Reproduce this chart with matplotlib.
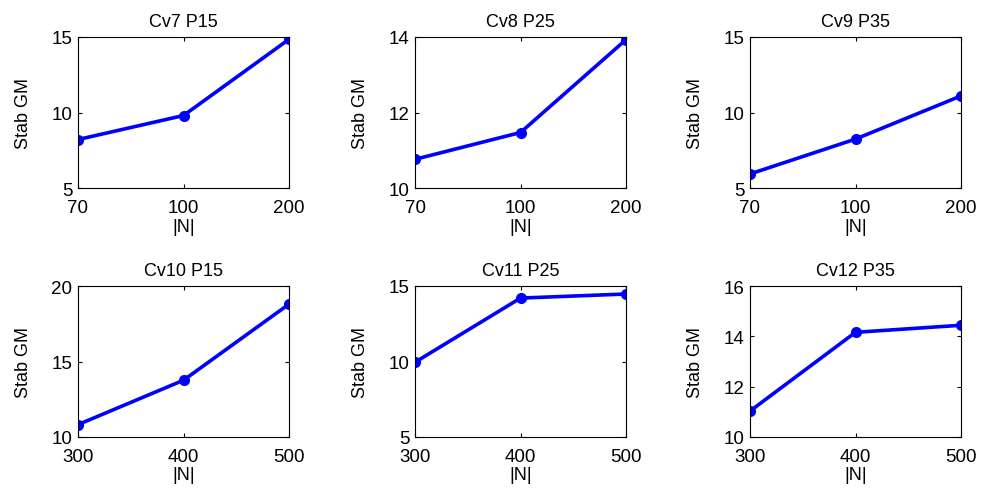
import matplotlib
matplotlib.use("Agg")
import matplotlib.pyplot as plt

plt.rcParams['font.family'] = ['Liberation Sans', 'DejaVu Sans']

# Data
titles = ["Cv7 P15", "Cv8 P25", "Cv9 P35", "Cv10 P15", "Cv11 P25", "Cv12 P35"]
n_top = ["70", "100", "200"]
n_bottom = ["300", "400", "500"]
cv7 = [8.21, 9.8, 14.85]
cv8 = [10.76, 11.47, 13.93]
cv9 = [5.93, 8.24, 11.1]
cv10 = [10.82, 13.76, 18.8]
cv11 = [9.95, 14.2, 14.47]
cv12 = [11.03, 14.16, 14.44]
ylims = [(5, 15), (10, 14), (5, 15), (10, 20), (5, 15), (10, 16)]
yticks = [[5, 10, 15], [10, 12, 14], [5, 10, 15], [10, 15, 20], [5, 10, 15], [10, 12, 14, 16]]

series = [cv7, cv8, cv9, cv10, cv11, cv12]
xlabels = [n_top, n_top, n_top, n_bottom, n_bottom, n_bottom]

fig = plt.figure(figsize=(9.82, 4.89), dpi=100)
W, H = 982, 489
lefts = [78, 415, 750]
tops = [38, 287]
aw, ah = 211, 151

for i in range(6):
    r, c = divmod(i, 3)
    ax = fig.add_axes([lefts[c] / W, 1 - (tops[r] + ah) / H, aw / W, ah / H])
    x = [0, 1, 2]
    ax.plot(x, series[i], color='blue', linewidth=2.6, marker='o', markersize=7)
    ax.set_xlim(0, 2)
    ax.set_ylim(*ylims[i])
    ax.set_xticks(x)
    ax.set_xticklabels(xlabels[i])
    ax.set_yticks(yticks[i])
    ax.tick_params(direction='in', top=True, right=True, labelsize=13.5, length=3)
    ax.tick_params(axis='x', pad=8)
    ax.tick_params(axis='y', pad=4)
    ax.set_title(titles[i], fontsize=13, pad=8)
    ax.set_xlabel("|N|", fontsize=13, labelpad=1)
    ax.set_ylabel("Stab GM", fontsize=13, labelpad=14)

fig.savefig("out.png", dpi=100)
